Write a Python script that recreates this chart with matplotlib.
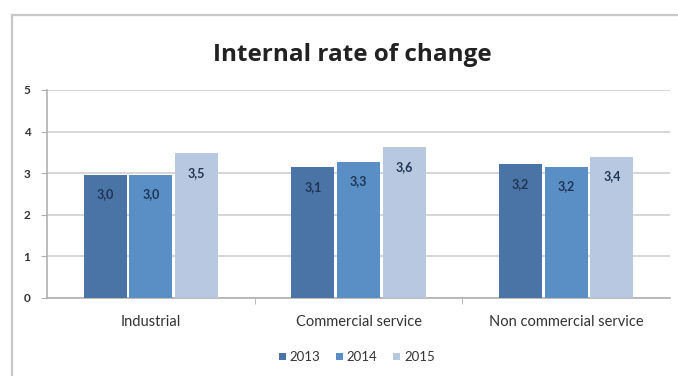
import numpy as np
from matplotlib import pyplot as plt
from matplotlib.patches import Rectangle

plt.rc('font', family=['Lato', 'DejaVu Sans'])

categories = ['Industrial', 'Commercial service', 'Non commercial service']
years = ['2013', '2014', '2015']
rate_2013 = [2.96, 3.14, 3.21]
rate_2014 = [2.96, 3.28, 3.16]
rate_2015 = [3.48, 3.62, 3.40]
y_ticks = [0, 1, 2, 3, 4, 5]

series = [rate_2013, rate_2014, rate_2015]
colours = ['#4a74a6', '#5a8fc6', '#b8c8e0']

fig = plt.figure(figsize=(6.78, 3.76), dpi=100)

# grey frame around the whole chart
fig.patches.append(Rectangle((12 / 678, -0.01), 700 / 678, 1 - 15 / 376 + 0.01,
                             transform=fig.transFigure, fill=False,
                             edgecolor='#c8c8c8', linewidth=1.6))

ax = fig.add_axes([47 / 678, 1 - 298 / 376, 623 / 678, 208 / 376])

x = np.arange(len(categories))
width = 0.208
gap = 0.012
for i, (values, colour) in enumerate(zip(series, colours)):
    offset = (i - 1) * (width + gap)
    bars = ax.bar(x + offset, values, width, color=colour, label=years[i], zorder=3)
    for bar, v in zip(bars, values):
        ax.annotate(f'{v:.1f}'.replace('.', ','),
                    (bar.get_x() + bar.get_width() / 2, v),
                    xytext=(0, -14), textcoords='offset points',
                    ha='center', va='center', fontsize=9, fontweight='bold',
                    color='#1f3554', zorder=4)

ax.set_xlim(-0.5, len(categories) - 0.5)
ax.set_ylim(0, 5)
ax.set_yticks(y_ticks)
ax.set_xticks(x)
ax.set_xticklabels(categories)
ax.yaxis.grid(True, color='#d0d0d0', linewidth=1.2, zorder=0)

for side in ['top', 'right']:
    ax.spines[side].set_visible(False)
for side in ['left', 'bottom']:
    ax.spines[side].set_color('#b0b0b0')
    ax.spines[side].set_linewidth(1.2)

ax.tick_params(axis='y', length=4, color='#b0b0b0', labelsize=8.5, labelcolor='#333333', pad=8)
for lbl in ax.get_yticklabels():
    lbl.set_fontweight('bold')
ax.tick_params(axis='x', length=0, labelsize=10.5, labelcolor='#333333', pad=12)
ax.set_xticks([0.5, 1.5], minor=True)
ax.tick_params(axis='x', which='minor', length=4, color='#b0b0b0')

fig.text(352 / 678, 1 - 55 / 376, 'Internal rate of change', ha='center', va='center',
         fontsize=17.5, fontweight='bold', color='#222222', family='Open Sans')

fig.legend(loc='center', bbox_to_anchor=(357 / 678, 1 - 357 / 376), ncol=3, frameon=False,
           fontsize=9.5, handlelength=0.5, handleheight=0.5, handletextpad=0.3,
           columnspacing=1.2, labelcolor='#333333')

plt.savefig('out.png', dpi=100)
